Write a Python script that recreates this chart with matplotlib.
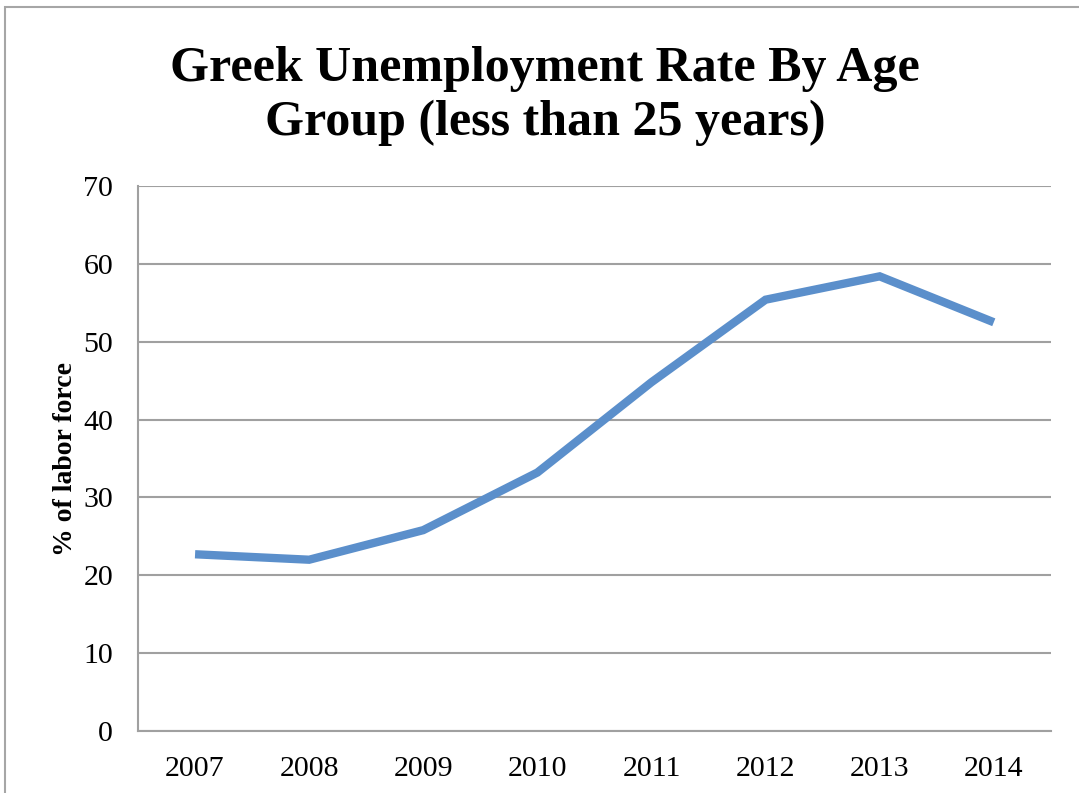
import matplotlib
matplotlib.use('Agg')
import matplotlib.pyplot as plt
from matplotlib.patches import Rectangle

# youth unemployment, Greece, % of labor force
years = ['2007', '2008', '2009', '2010', '2011', '2012', '2013', '2014']
rate = [22.7, 22.0, 25.8, 33.2, 44.8, 55.4, 58.4, 52.5]
yticks = [0, 10, 20, 30, 40, 50, 60, 70]

plt.rcParams['font.family'] = ['Liberation Serif', 'DejaVu Serif']

fig = plt.figure(figsize=(10.79, 7.93), dpi=100)
ax = fig.add_axes([0.1279, 0.0782, 0.846, 0.6872])

# outer chart frame
fig.patches.append(Rectangle((5 / 1079, -0.1), 1.2, 1.1 - 7 / 793,
                             transform=fig.transFigure, fill=False,
                             edgecolor='#a6a6a6', linewidth=1.5))

ax.plot(range(len(years)), rate, color='#5b8fcb', linewidth=6,
        solid_capstyle='butt', solid_joinstyle='miter', zorder=3)

ax.set_xlim(-0.5, len(years) - 0.5)
ax.set_ylim(0, 70)
ax.set_yticks(yticks)
ax.set_xticks(range(len(years)))
ax.set_xticklabels(years)
ax.yaxis.grid(True, color='#a0a0a0', linewidth=1.5)
ax.set_axisbelow(True)
for s in ['top', 'right']:
    ax.spines[s].set_visible(False)
for s in ['left', 'bottom']:
    ax.spines[s].set_color('#a0a0a0')
    ax.spines[s].set_linewidth(1.5)
ax.tick_params(axis='both', length=0, labelsize=21.5, colors='black')
ax.tick_params(axis='y', pad=18)
ax.tick_params(axis='x', pad=18)

ax.set_ylabel('% of labor force', fontsize=20, fontweight='bold', labelpad=4)

fig.text(0.505, 0.942, 'Greek Unemployment Rate By Age\nGroup (less than 25 years)',
         ha='center', va='top', fontsize=36, fontweight='bold', linespacing=1.22)

fig.savefig('out.png', dpi=100)
